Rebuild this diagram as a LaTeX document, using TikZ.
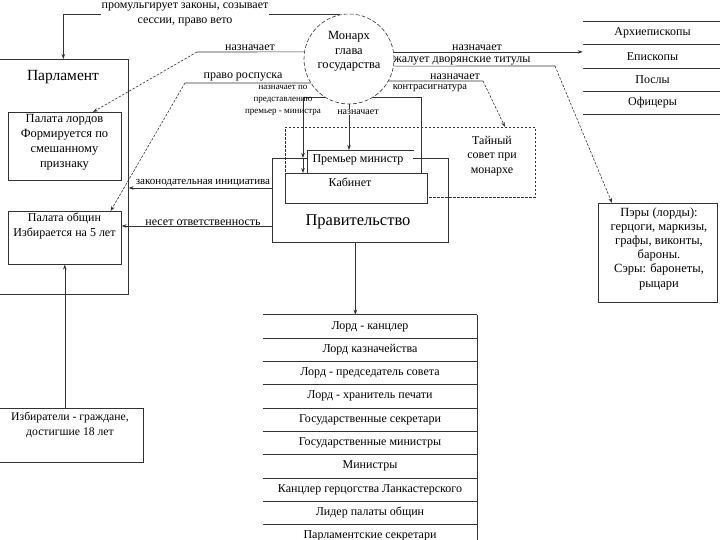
\documentclass[tikz,border=0pt]{standalone}
\usepackage{fontspec}
\setmainfont{Liberation Serif}
\usetikzlibrary{arrows.meta,calc,positioning}
\begin{document}
\begin{tikzpicture}[x=1pt,y=-1pt,
  line width=0.6pt, draw=black!80,
  box/.style={draw=black!80, fill=white, inner sep=0pt, anchor=north west},
  plain/.style={inner sep=0pt, anchor=north west},
  txt/.style={align=center, inner sep=0.5pt, font=\fontsize{12}{14.6}\selectfont},
  lbl/.style={align=center, inner sep=0.5pt, font=\fontsize{12}{15}\selectfont},
  sm/.style={align=center, inner sep=0.5pt, font=\fontsize{9}{12}\selectfont},
  arr/.style={-{Stealth[length=5pt,width=3.5pt]}},
  dsh/.style={dash pattern=on 2.5pt off 1.5pt},
  row/.style={inner sep=0pt, minimum height=22.7pt, font=\fontsize{12}{14}\selectfont}
]
\useasboundingbox (0,0) rectangle (720,540);

% Parliament
\node[box, fill=none, minimum width=130pt, minimum height=235pt] (parl) at (-2,59) {};
\node[inner sep=0pt, font=\fontsize{15.5}{18}\selectfont] (parlT) at (63,77) {Парламент};
\node[box, minimum width=113pt, minimum height=68pt] (lords) at (8,112) {};
\node[txt, font=\fontsize{12.5}{15}\selectfont] (lordsT) at (64.5,142.5) {Палата лордов\\Формируется по\\смешанному\\признаку};
\node[box, minimum width=113pt, minimum height=53pt] (commons) at (8,211) {};
\node[txt] (commonsT) at (64.5,226) {Палата общин\\Избирается на 5 лет};
\node[box, minimum width=145pt, minimum height=54pt] (voters) at (-2,408) {};
\node[txt, font=\fontsize{11.7}{15}\selectfont] (votersT) at (70,424.5) {Избиратели - граждане,\\достигшие 18 лет};

% Monarch
\node[draw=black!80, dash pattern=on 4pt off 2pt, circle, minimum size=90pt, inner sep=0pt] (mon) at (349,59) {};
\node[txt, font=\fontsize{12.5}{14.6}\selectfont] (monT) at (349,51.5) {Монарх\\глава\\государства};

% Government
\node[box, minimum width=176pt, minimum height=84pt] (gov) at (272,158) {};
\node[inner sep=0pt, font=\fontsize{16.5}{19}\selectfont] (govT) at (358,222) {Правительство};
\node[box, fill=none, dsh, minimum width=250pt, minimum height=70pt] (council) at (285,127) {};
\node[txt] (councilT) at (492,156) {Тайный\\совет при\\монархе};
\node[box, minimum width=142pt, minimum height=30pt] (cab) at (285,173) {};
\node[txt] (cabT) at (350,182) {Кабинет};
\node[plain, fill=white, minimum width=106pt, minimum height=23pt] (prem) at (307,150) {};
\draw (prem.south west) -- (prem.north west) -- (prem.north east);
\node[txt] (premT) at (358,160) {Премьер министр};

% Right titles list
\node[row, minimum width=139pt] (t1) at (652.5,33) {Архиепископы};
\node[row, minimum width=139pt, below=0pt of t1] (t2) {Епископы};
\node[row, minimum width=139pt, below=0pt of t2] (t3) {Послы};
\node[row, minimum width=139pt, below=0pt of t3] (t4) {Офицеры};
\foreach \r in {t1,t2,t3,t4} \draw (\r.north west) -- (\r.north east);
\draw (t4.south west) -- (t4.south east);

% Peers
\node[box, minimum width=119pt, minimum height=99pt] (peers) at (598,203) {};
\node[txt, font=\fontsize{12.5}{14.2}\selectfont] (peersT) at (659,248.5) {Пэры (лорды):\\герцоги, маркизы,\\графы, виконты,\\бароны.\\Сэры: баронеты,\\рыцари};

% Ministers list
\node[row, minimum width=214pt] (m1) at (370,326.35) {Лорд - канцлер};
\node[row, minimum width=214pt, below=0pt of m1] (m2) {Лорд казначейства};
\node[row, minimum width=214pt, below=0pt of m2] (m3) {Лорд - председатель совета};
\node[row, minimum width=214pt, below=0pt of m3] (m4) {Лорд - хранитель печати};
\node[row, minimum width=214pt, below=0pt of m4] (m5) {Государственные секретари};
\node[row, minimum width=214pt, below=0pt of m5] (m6) {Государственные министры};
\node[row, minimum width=214pt, below=0pt of m6] (m7) {Министры};
\node[row, minimum width=214pt, below=0pt of m7] (m8) {Канцлер герцогства Ланкастерского};
\node[row, minimum width=214pt, below=0pt of m8] (m9) {Лидер палаты общин};
\node[row, minimum width=214pt, below=0pt of m9] (m10) {Парламентские секретари};
\foreach \r in {m1,m2,m3,m4,m5,m6,m7,m8,m9,m10} \draw (\r.north west) -- (\r.north east);
\draw (m1.north east) -- (m10.south east);

% Connectors from the monarch
\draw[arr] (mon.102) -| (parl.north);
\node[lbl, fill=white] (l1) at (185,14.5) {промульгирует законы, созывает\\сессии, право вето};

\coordinate (k1) at (197,52);
\draw (mon.171) -- (k1);
\draw[arr, dsh] (k1) -- ([xshift=85pt]lords.north west);
\node[lbl, anchor=south] (l2) at (250,51) {назначает};

\coordinate (k2) at (185,83);
\draw (mon.212) -- (k2);
\draw[arr, dsh] (k2) -- ([xshift=-11pt]commons.north east);
\node[lbl, anchor=south] (l3) at (243,82) {право роспуска};

\draw[arr] (mon.238) -| ([xshift=31pt]gov.north west);
\draw[arr] ([xshift=31pt]gov.north west) -- ([xshift=18pt]cab.north west);
\node[sm] (l4) at (283,100) {назначает по\\представлению\\премьер - министра};

\draw[arr] (mon.south) -- (mon.south |- prem.north);
\node[sm, fill=white, font=\fontsize{10}{12}\selectfont] (l5) at (358,112) {назначает};

\draw (mon.302) -| ([xshift=-6pt]cab.north east);
\node[sm, font=\fontsize{10.5}{12}\selectfont] (l6) at (430,88) {контрасигнатура};

\coordinate (k3) at (483,81);
\draw (mon.331) -- (k3);
\draw[arr, dsh] (k3) -- ([xshift=220pt]council.north west);
\node[lbl, anchor=south] (l7) at (455,80.5) {назначает};

\coordinate (k4) at (555,66);
\draw (mon.351) -- (k4);
\draw[arr, dsh] (k4) -- ([xshift=14pt]peers.north west);
\node[lbl, anchor=south] (l8) at (462,66) {жалует дворянские титулы};

\draw[arr] (mon.9) -- (mon.9 -| t2.west);
\node[lbl, anchor=south] (l9) at (477,51) {назначает};

% Government connectors
\draw[arr] ([yshift=-30pt]gov.north west) -- ([yshift=-30pt]gov.north west -| parl.east);
\node[sm, font=\fontsize{11}{12}\selectfont, anchor=south] (l10) at (203,187.5) {законодательная инициатива};
\draw[arr] ([yshift=-68pt]gov.north west) -- ([yshift=-68pt]gov.north west -| commons.east);
\node[lbl, anchor=south] (l11) at (203,226) {несет ответственность};
\draw[arr] ([xshift=-5pt]gov.south) -- ([xshift=-5pt]gov.south |- m1.north);

% Voters
\draw[arr] (commons.south |- voters.north) -- (commons.south);
\end{tikzpicture}
\end{document}
